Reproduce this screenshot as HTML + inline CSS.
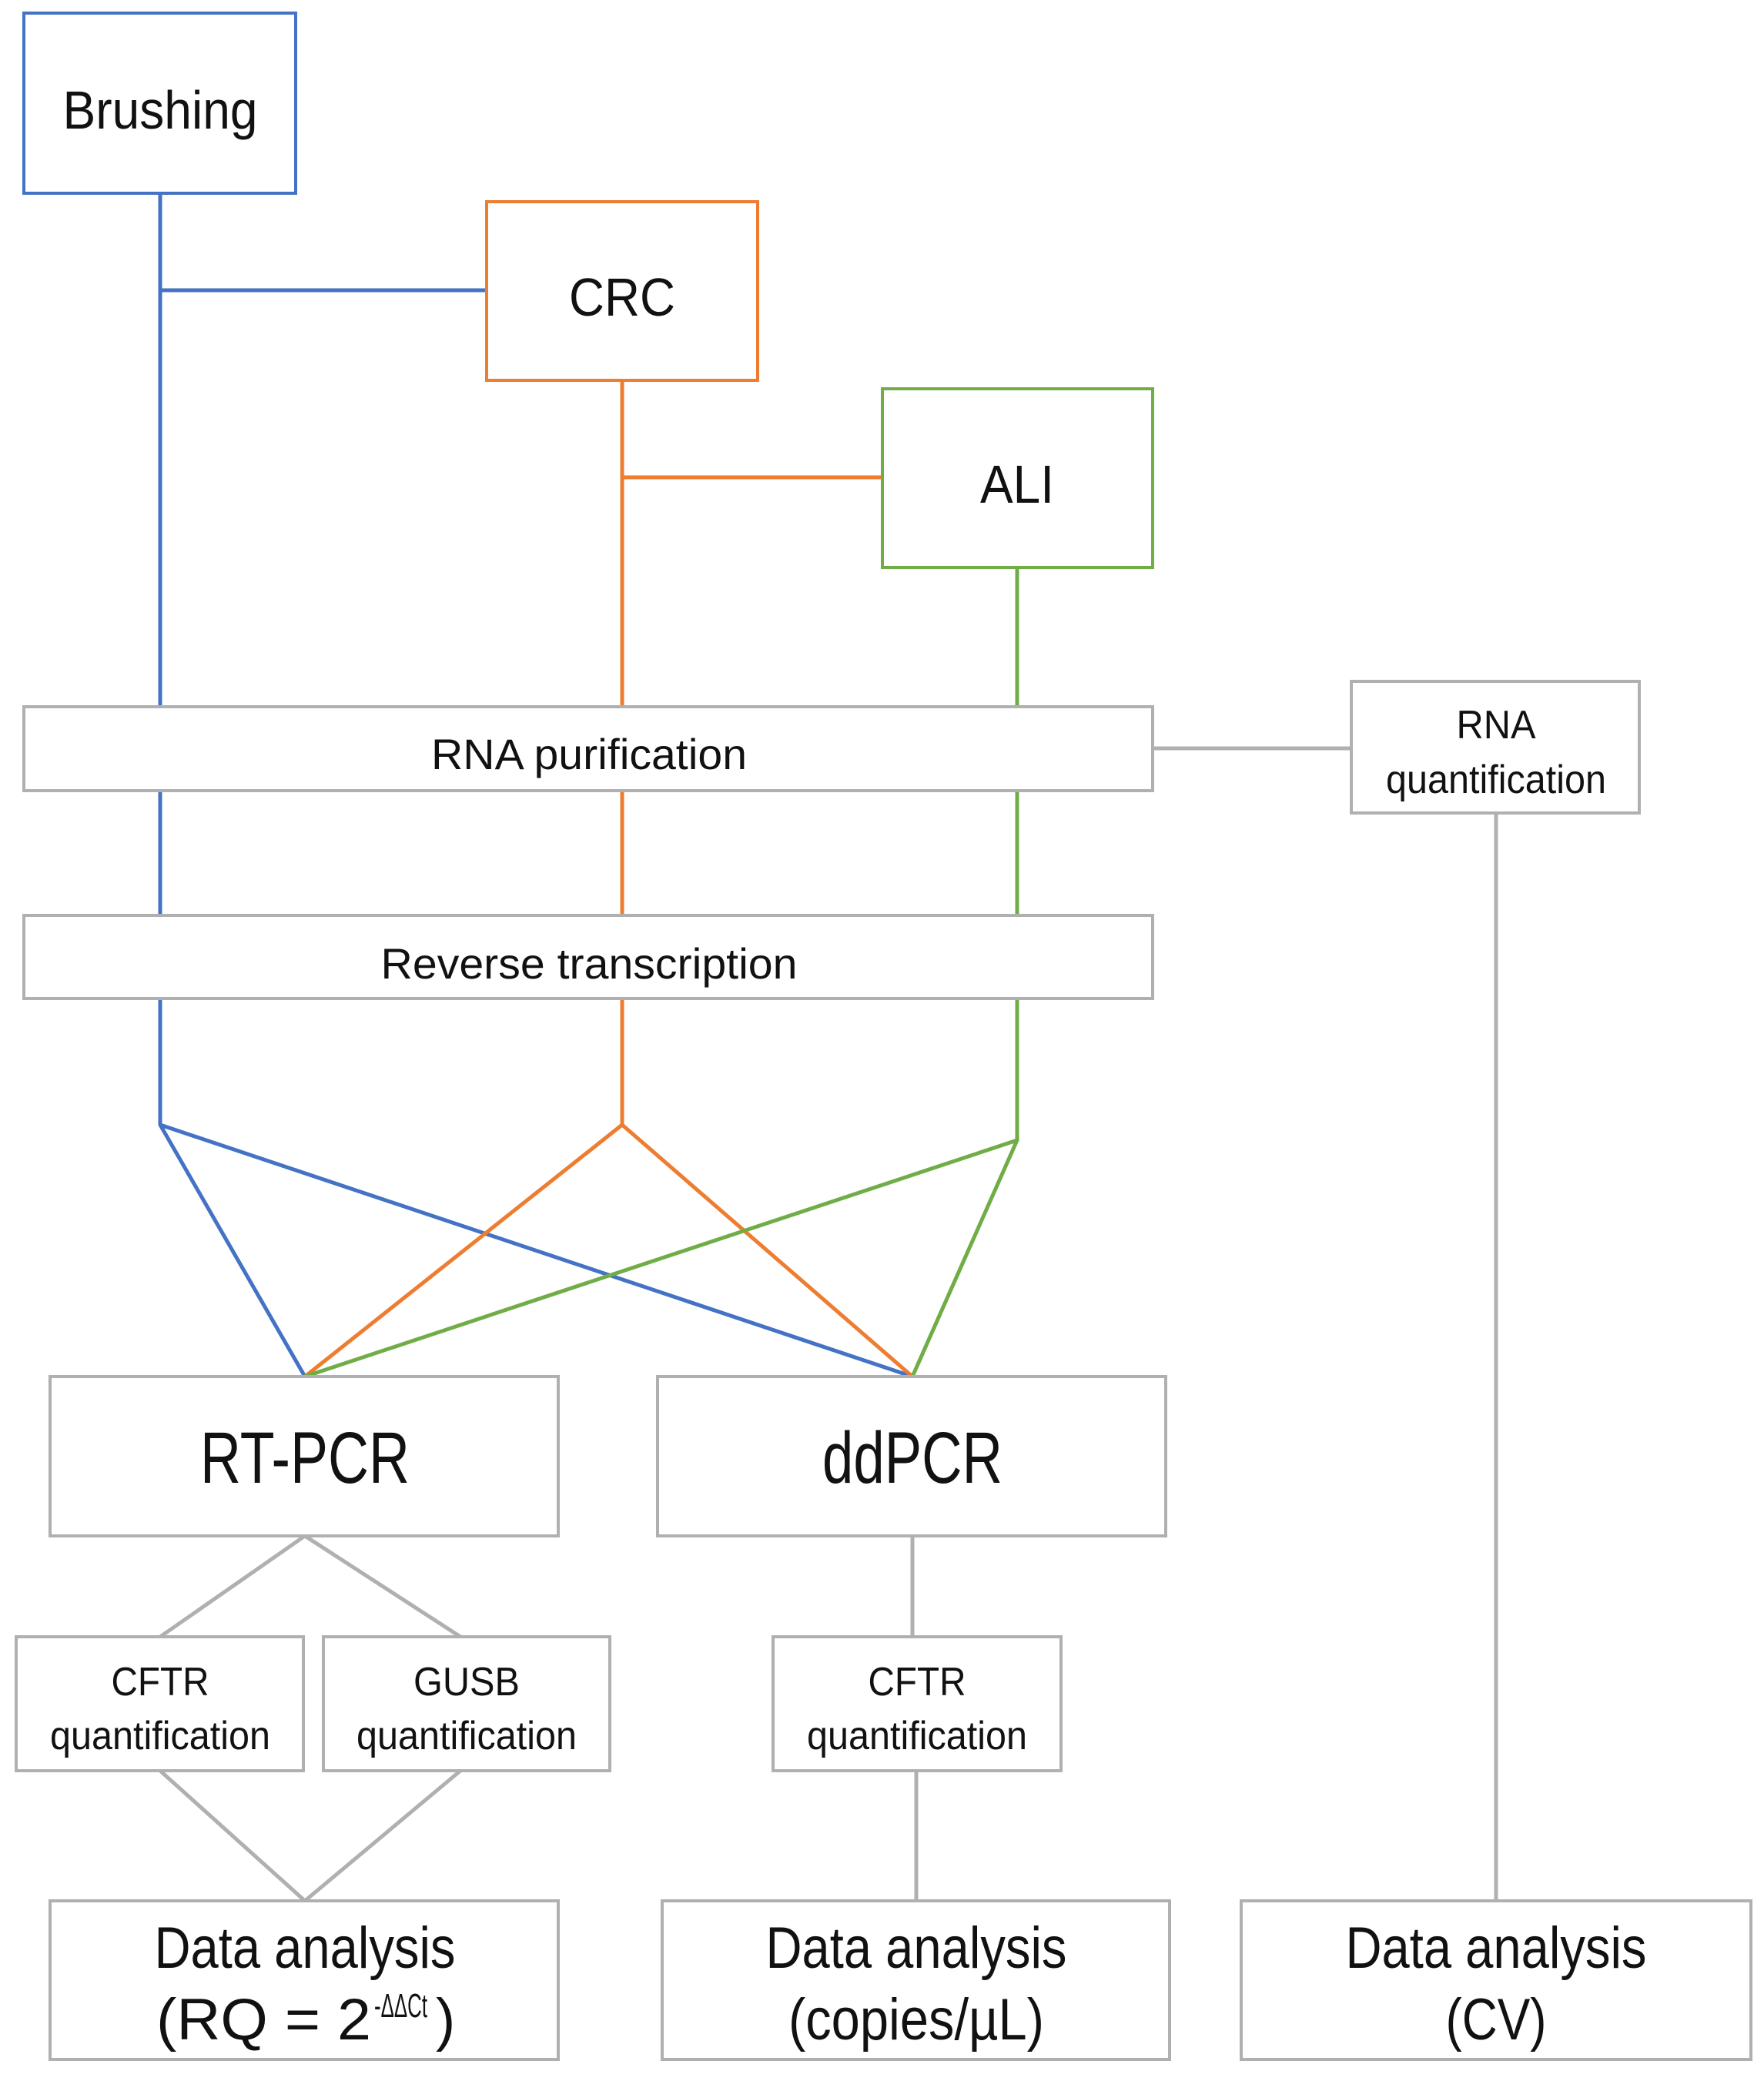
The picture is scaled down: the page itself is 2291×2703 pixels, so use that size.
<!DOCTYPE html>
<html><head><meta charset="utf-8"><style>
html,body{margin:0;padding:0;background:#fff;}
svg{display:block;}
text{font-family:"Liberation Sans",sans-serif;fill:#111;}
</style></head><body>
<svg width="2291" height="2703" viewBox="0 0 2291 2703" xmlns="http://www.w3.org/2000/svg">
<g fill="none" stroke-width="5">
  <path d="M208 251 V1461 L396 1788 M208 377 H632 M208 1461 L1185 1788" stroke="#4472c4"/>
  <path d="M808 494 V1461 L396 1788 M808 620 H1146 M808 1461 L1185 1788" stroke="#ed7d31"/>
  <path d="M1321 737 V1481 L1185 1788 M1321 1481 L396 1788" stroke="#70ad47"/>
  <path d="M1497 972 H1755 M1943 1056 V2469 M396 1995 L208 2126 M396 1995 L598 2126 M208 2300 L396 2469 M598 2300 L396 2469 M1185 1995 V2126 M1190 2300 V2469" stroke="#b0b0b0"/>
</g>
<g fill="#fff" stroke-width="4">
  <rect x="31" y="17" width="353" height="234" stroke="#4472c4"/>
  <rect x="632" y="262" width="352" height="232" stroke="#ed7d31"/>
  <rect x="1146" y="505" width="351" height="232" stroke="#70ad47"/>
</g>
<g fill="#fff" stroke="#b0b0b0" stroke-width="4">
  <rect x="31" y="918" width="1466" height="109"/>
  <rect x="1755" y="885" width="374" height="171"/>
  <rect x="31" y="1189" width="1466" height="108"/>
  <rect x="65" y="1788" width="660" height="207"/>
  <rect x="854" y="1788" width="660" height="207"/>
  <rect x="21" y="2126" width="373" height="174"/>
  <rect x="420" y="2126" width="372" height="174"/>
  <rect x="1004" y="2126" width="374" height="174"/>
  <rect x="65" y="2469" width="660" height="206"/>
  <rect x="860" y="2469" width="659" height="206"/>
  <rect x="1612" y="2469" width="662" height="206"/>
</g>
<g text-anchor="middle">
  <text x="208" y="167" font-size="70" textLength="253" lengthAdjust="spacingAndGlyphs">Brushing</text>
  <text x="808" y="410" font-size="70" textLength="138" lengthAdjust="spacingAndGlyphs">CRC</text>
  <text x="1321" y="653" font-size="70" textLength="96" lengthAdjust="spacingAndGlyphs">ALI</text>
  <text x="765" y="999" font-size="56" textLength="410" lengthAdjust="spacingAndGlyphs">RNA purification</text>
  <text x="765" y="1271" font-size="56" textLength="541" lengthAdjust="spacingAndGlyphs">Reverse transcription</text>
  <text x="1943" y="959" font-size="52" textLength="103" lengthAdjust="spacingAndGlyphs">RNA</text>
  <text x="1943" y="1030" font-size="52" textLength="286" lengthAdjust="spacingAndGlyphs">quantification</text>
  <text x="396" y="1926" font-size="95" textLength="272" lengthAdjust="spacingAndGlyphs">RT-PCR</text>
  <text x="1185" y="1926" font-size="95" textLength="234" lengthAdjust="spacingAndGlyphs">ddPCR</text>
  <text x="208" y="2202" font-size="52" textLength="127" lengthAdjust="spacingAndGlyphs">CFTR</text>
  <text x="208" y="2272" font-size="52" textLength="286" lengthAdjust="spacingAndGlyphs">quantification</text>
  <text x="606" y="2202" font-size="52" textLength="138" lengthAdjust="spacingAndGlyphs">GUSB</text>
  <text x="606" y="2272" font-size="52" textLength="286" lengthAdjust="spacingAndGlyphs">quantification</text>
  <text x="1191" y="2202" font-size="52" textLength="127" lengthAdjust="spacingAndGlyphs">CFTR</text>
  <text x="1191" y="2272" font-size="52" textLength="286" lengthAdjust="spacingAndGlyphs">quantification</text>
  <text x="396" y="2556" font-size="76" textLength="391" lengthAdjust="spacingAndGlyphs">Data analysis</text>
  <text x="1190" y="2556" font-size="76" textLength="391" lengthAdjust="spacingAndGlyphs">Data analysis</text>
  <text x="1943" y="2556" font-size="76" textLength="391" lengthAdjust="spacingAndGlyphs">Data analysis</text>
  <text x="1190" y="2649" font-size="76" textLength="332" lengthAdjust="spacingAndGlyphs">(copies/µL)</text>
  <text x="1943" y="2649" font-size="76" textLength="131" lengthAdjust="spacingAndGlyphs">(CV)</text>
</g>
<text x="203" y="2649" font-size="76" textLength="279" lengthAdjust="spacingAndGlyphs">(RQ = 2</text>
<text x="486" y="2620" font-size="44" textLength="69" lengthAdjust="spacingAndGlyphs">-ΔΔCt</text>
<text x="566" y="2649" font-size="76">)</text>
</svg>
</body></html>
